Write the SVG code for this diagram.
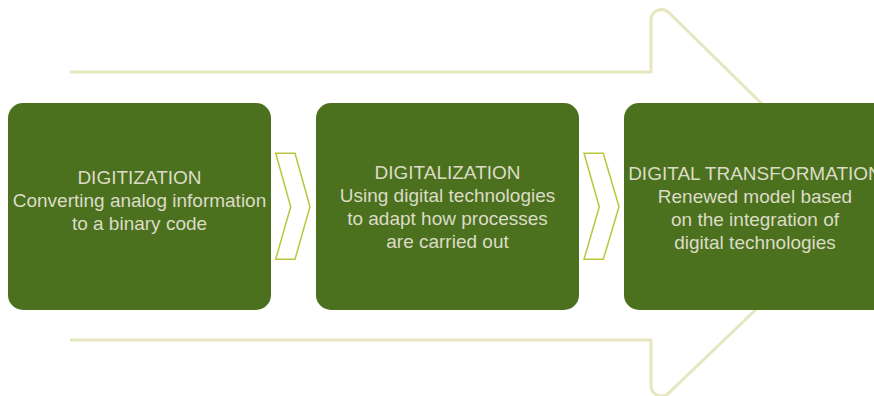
<svg xmlns="http://www.w3.org/2000/svg" width="874" height="396" viewBox="0 0 874 396">
  <style>
    .box { fill: #4b701e; }
    .chev { fill: none; stroke: #b9c63c; stroke-width: 1.5; stroke-linejoin: miter; }
    .big { fill: none; stroke: #e6e6c0; stroke-width: 3; stroke-linejoin: round; }
    .lbl { font-family: "Liberation Sans", Arial, sans-serif; font-size: 19px; fill: #dcdcc6; text-anchor: middle; }
  </style>
  <rect width="874" height="396" fill="#ffffff"/>
  <g id="connectors">
    <path id="big-arrow" class="big" d="M70,72 H651 V20 A10.5,10.5 0 0 1 668.8,12.5 L865,205 L668.7,393.1 A10.5,10.5 0 0 1 651,385.5 V340 H70"/>
    <polygon id="chevron-1" class="chev" points="275.7,153.3 295,153.3 310,206.7 295,259.3 275.7,259.3 290.7,206.7"/>
    <polygon id="chevron-2" class="chev" points="584,153.3 603.3,153.3 619,206.7 603.3,259.3 584,259.3 599.3,206.7"/>
  </g>
  <g id="node-digitization">
    <rect class="box" x="8" y="103" width="263" height="207" rx="15" ry="15"/>
    <text class="lbl" x="139.5" y="184">DIGITIZATION</text>
    <text class="lbl" x="139.5" y="207">Converting analog information</text>
    <text class="lbl" x="139.5" y="230">to a binary code</text>
  </g>
  <g id="node-digitalization">
    <rect class="box" x="316" y="103" width="263" height="207" rx="15" ry="15"/>
    <text class="lbl" x="447.5" y="179">DIGITALIZATION</text>
    <text class="lbl" x="447.5" y="202">Using digital technologies</text>
    <text class="lbl" x="447.5" y="225">to adapt how processes</text>
    <text class="lbl" x="447.5" y="248">are carried out</text>
  </g>
  <g id="node-digital-transformation">
    <rect class="box" x="624" y="103" width="263" height="207" rx="15" ry="15"/>
    <text class="lbl" x="755" y="180">DIGITAL TRANSFORMATION</text>
    <text class="lbl" x="755" y="203">Renewed model based</text>
    <text class="lbl" x="755" y="226">on the integration of</text>
    <text class="lbl" x="755" y="249">digital technologies</text>
  </g>
</svg>
